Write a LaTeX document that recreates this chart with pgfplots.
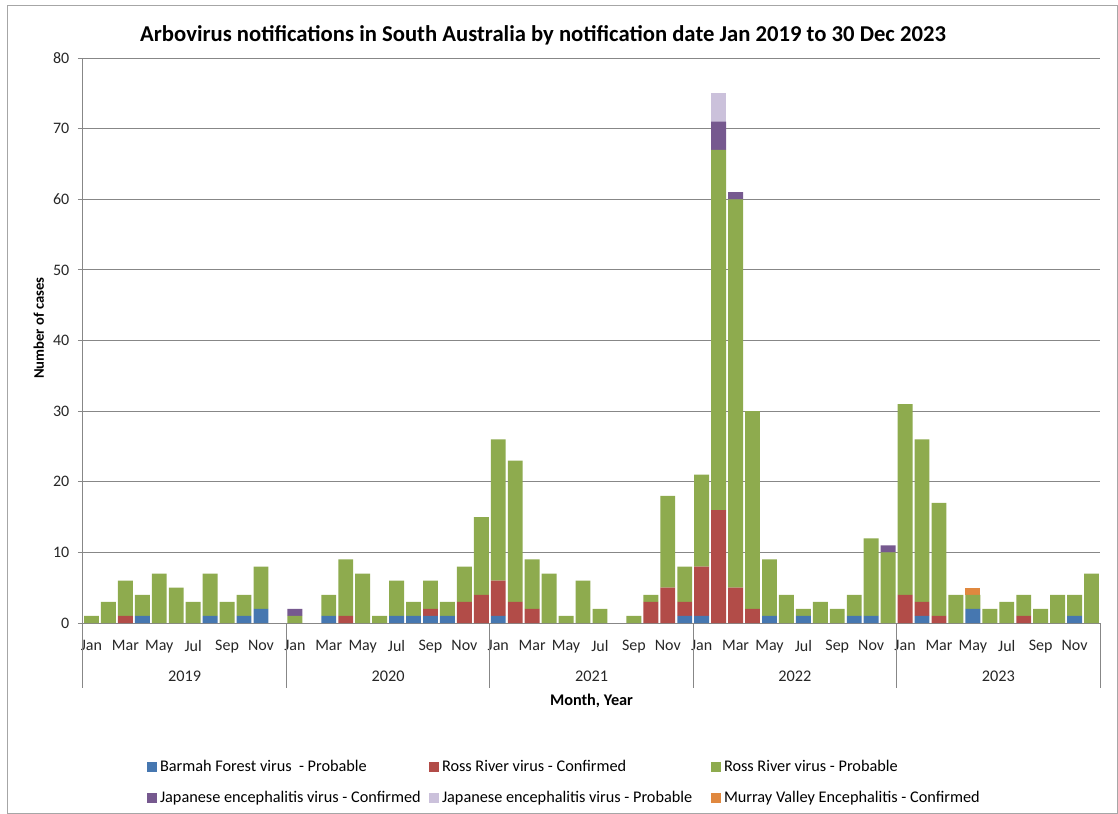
\documentclass[border=0pt]{standalone}
\usepackage{pgfplots}
\usepackage{pgfplotstable}
\pgfplotsset{compat=1.18}
\usepackage{fontspec}
\setmainfont{Carlito}
\definecolor{cbf}{HTML}{4677B0}
\definecolor{crrc}{HTML}{B24C48}
\definecolor{crrp}{HTML}{8EAB4E}
\definecolor{cjec}{HTML}{76598F}
\definecolor{cjep}{HTML}{CBC1DB}
\definecolor{cmve}{HTML}{E0883F}
\definecolor{axgray}{HTML}{878787}
\pgfplotstableread{
x bf rrc rrp jec jep mve
0 0 0 1 0 0 0
1 0 0 3 0 0 0
2 0 1 5 0 0 0
3 1 0 3 0 0 0
4 0 0 7 0 0 0
5 0 0 5 0 0 0
6 0 0 3 0 0 0
7 1 0 6 0 0 0
8 0 0 3 0 0 0
9 1 0 3 0 0 0
10 2 0 6 0 0 0
11 0 0 0 0 0 0
12 0 0 1 1 0 0
13 0 0 0 0 0 0
14 1 0 3 0 0 0
15 0 1 8 0 0 0
16 0 0 7 0 0 0
17 0 0 1 0 0 0
18 1 0 5 0 0 0
19 1 0 2 0 0 0
20 1 1 4 0 0 0
21 1 0 2 0 0 0
22 0 3 5 0 0 0
23 0 4 11 0 0 0
24 1 5 20 0 0 0
25 0 3 20 0 0 0
26 0 2 7 0 0 0
27 0 0 7 0 0 0
28 0 0 1 0 0 0
29 0 0 6 0 0 0
30 0 0 2 0 0 0
31 0 0 0 0 0 0
32 0 0 1 0 0 0
33 0 3 1 0 0 0
34 0 5 13 0 0 0
35 1 2 5 0 0 0
36 1 7 13 0 0 0
37 0 16 51 4 4 0
38 0 5 55 1 0 0
39 0 2 28 0 0 0
40 1 0 8 0 0 0
41 0 0 4 0 0 0
42 1 0 1 0 0 0
43 0 0 3 0 0 0
44 0 0 2 0 0 0
45 1 0 3 0 0 0
46 1 0 11 0 0 0
47 0 0 10 1 0 0
48 0 4 27 0 0 0
49 1 2 23 0 0 0
50 0 1 16 0 0 0
51 0 0 4 0 0 0
52 2 0 2 0 0 1
53 0 0 2 0 0 0
54 0 0 3 0 0 0
55 0 1 3 0 0 0
56 0 0 2 0 0 0
57 0 0 4 0 0 0
58 1 0 3 0 0 0
59 0 0 7 0 0 0
}\datatable
\begin{document}
\begin{tikzpicture}
\path[use as bounding box] (0,0) rectangle (838.5pt,610.5pt);
\draw[color=black!35, line width=0.75pt] (5.25pt,0.4pt) rectangle (837.9pt,606pt);
\node[font=\fontsize{17}{19}\selectfont\bfseries] at (407.25pt,584.25pt) {Arbovirus notifications in South Australia by notification date Jan 2019 to 30 Dec 2023};
\node[font=\fontsize{11}{13}\selectfont\bfseries, rotate=90] at (29pt,364.5pt) {Number of cases};
\begin{axis}[
  at={(62.25pt,143.25pt)}, anchor=south west,
  scale only axis, width=762.75pt, height=423.75pt,
  ybar stacked, bar width=0.88,
  xmin=-0.5, xmax=59.5, ymin=0, ymax=80,
  ytick={0,10,...,80},
  xtick={0,2,...,58},
  xticklabels={Jan,Mar,May,Jul,Sep,Nov,Jan,Mar,May,Jul,Sep,Nov,Jan,Mar,May,Jul,Sep,Nov,Jan,Mar,May,Jul,Sep,Nov,Jan,Mar,May,Jul,Sep,Nov},
  axis x line*=bottom, axis y line*=left,
  axis line style={axgray, line width=0.75pt},
  ymajorgrids, grid style={axgray, line width=0.75pt},
  xtick style={draw=none},
  ytick style={axgray, line width=0.75pt},
  tick align=outside, major tick length=3.75pt,
  tick label style={font=\fontsize{12}{14}\selectfont, text=black!85},
  /pgf/number format/assume math mode=true,
  yticklabel style={xshift=-3pt},
  xticklabel shift=5.5pt,
  clip=false,
  area legend,
  legend columns=3,
  legend style={at={(rel axis cs:0.063,-0.238)}, anchor=north west, draw=none, fill=none,
    font=\fontsize{12.2}{14}\selectfont, row sep=9pt, inner sep=0pt},
  legend image code/.code={\fill[#1] (0pt,-3.75pt) rectangle (7.5pt,3.75pt);},
]
\addplot[fill=cbf, draw=none] table[x=x, y=bf] {\datatable};
\addlegendentry{\makebox[200pt][l]{Barmah Forest virus \ - Probable}}
\addplot[fill=crrc, draw=none] table[x=x, y=rrc] {\datatable};
\addlegendentry{\makebox[200pt][l]{Ross River virus - Confirmed}}
\addplot[fill=crrp, draw=none] table[x=x, y=rrp] {\datatable};
\addlegendentry{\makebox[200pt][l]{Ross River virus - Probable}}
\addplot[fill=cjec, draw=none] table[x=x, y=jec] {\datatable};
\addlegendentry{\makebox[200pt][l]{Japanese encephalitis virus - Confirmed}}
\addplot[fill=cjep, draw=none] table[x=x, y=jep] {\datatable};
\addlegendentry{\makebox[200pt][l]{Japanese encephalitis virus - Probable}}
\addplot[fill=cmve, draw=none] table[x=x, y=mve] {\datatable};
\addlegendentry{\makebox[200pt][l]{Murray Valley Encephalitis - Confirmed}}
\foreach \s in {-0.5,11.5,23.5,35.5,47.5,59.5} {
  \edef\tmp{\noexpand\draw[axgray, line width=0.75pt] (axis cs:\s,0) -- ++(0pt,-48.75pt);}
  \tmp
}
\foreach \yr/\c in {2019/5.5,2020/17.5,2021/29.5,2022/41.5,2023/53.5} {
  \edef\tmp{\noexpand\node[font=\noexpand\fontsize{12.2}{14}\noexpand\selectfont, text=black!85] at ([yshift=-39.75pt]axis cs:\c,0) {\yr};}
  \tmp
}
\node[font=\fontsize{12.2}{14}\selectfont\bfseries] at ([yshift=-58.5pt]axis cs:29.5,0) {Month, Year};
\end{axis}
\end{tikzpicture}
\end{document}
